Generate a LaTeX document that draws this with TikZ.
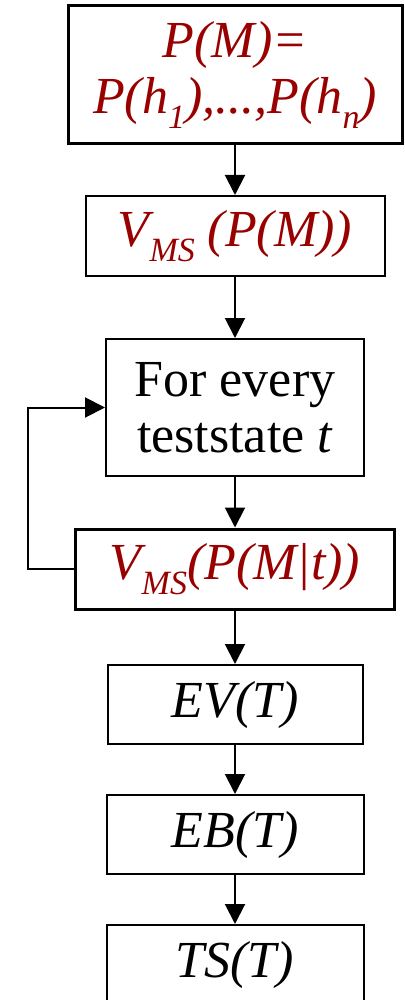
\documentclass[tikz,border=0pt]{standalone}
\usepackage{fontspec}
\setmainfont{Liberation Serif}
\usetikzlibrary{arrows.meta}

\definecolor{darkred}{RGB}{153,0,0}
\newcommand{\lowidx}[1]{\raisebox{-0.28em}{\fontsize{34}{34}\selectfont #1}}

\begin{document}
\begin{tikzpicture}[x=1pt, y=-1pt, >={Triangle[width=20pt,length=20pt]},
    box/.style={draw, line width=2pt, inner sep=0pt, align=center,
        font=\fontsize{52}{56}\selectfont},
    thickbox/.style={box, line width=3pt},
    formula/.style={text=darkred, font=\fontsize{52}{56}\selectfont\itshape}]
        \useasboundingbox (0,0) rectangle (404,1000);
        % chain of boxes, top to bottom
        \node[thickbox, formula, minimum width=334pt, minimum height=138pt] (pm) at (235,75)
            {P(M)=\\P(h\lowidx{1}),...,P(h\lowidx{n})};
        \node[box, formula, minimum width=299pt, minimum height=80pt] (vpm) at (235,236)
            {V\lowidx{MS} (P(M))};
        \node[box, minimum width=258pt, minimum height=137pt] (every) at (235,407.5)
            {For every\\teststate \textit{t}};
        \node[thickbox, formula, minimum width=319pt, minimum height=80pt] (vpmt) at (235,569)
            {V\lowidx{MS}(P(M|t))};
        \node[box, font=\fontsize{52}{56}\selectfont\itshape, minimum width=255pt, minimum height=79pt] (ev) at (235,704.5) {EV(T)};
        \node[box, font=\fontsize{52}{56}\selectfont\itshape, minimum width=257pt, minimum height=79pt] (eb) at (235,834.5) {EB(T)};
        \node[box, font=\fontsize{52}{56}\selectfont\itshape, minimum width=257pt, minimum height=80pt] (ts) at (235,965) {TS(T)};
        % arrows down the chain
        \draw[->, line width=2pt] (pm) -- (vpm);
        \draw[->, line width=2pt] (vpm) -- (every);
        \draw[->, line width=2pt] (every) -- (vpmt);
        \draw[->, line width=2pt] (vpmt) -- (ev);
        \draw[->, line width=2pt] (ev) -- (eb);
        \draw[->, line width=2pt] (eb) -- (ts);
        % loop back to the test states
        \coordinate (back) at (28,569);
        \draw[->, line width=2pt] (vpmt.west) -- (back) |- (every.west);
\end{tikzpicture}
\end{document}
